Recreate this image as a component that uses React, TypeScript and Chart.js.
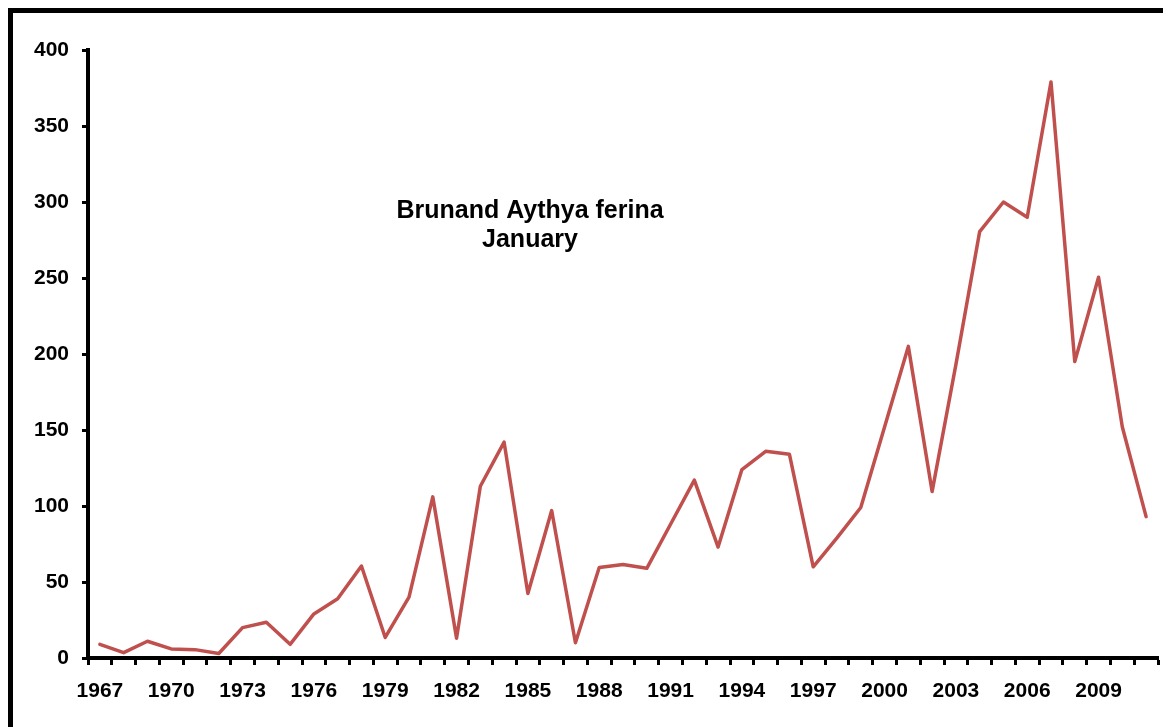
import React, { useEffect, useRef } from "react";
import { Chart, registerables } from "chart.js";

Chart.register(...registerables);

const years: string[] = [
  "1967","1968","1969","1970","1971","1972","1973","1974","1975","1976",
  "1977","1978","1979","1980","1981","1982","1983","1984","1985","1986",
  "1987","1988","1989","1990","1991","1992","1993","1994","1995","1996",
  "1997","1998","1999","2000","2001","2002","2003","2004","2005","2006",
  "2007","2008","2009","2010","2011",
];

const counts: number[] = [
  9, 3.5, 11, 6, 5.5, 3, 20, 23.5, 9, 29,
  39, 60.5, 13.5, 40, 106, 13, 113, 142, 42.5, 97,
  10, 59.5, 61.5, 59, 88, 117, 73, 124, 136, 134,
  60, 79, 99, 152, 205, 109.5, 193, 280.5, 300, 290,
  379, 195, 250.5, 152, 93,
];

const titleLines: string[] = ["Brunand Aythya ferina", "January"];

const FONT = '"Liberation Sans", Arial, sans-serif';

export default function App() {
  const canvasRef = useRef<HTMLCanvasElement | null>(null);

  useEffect(() => {
    const canvas = canvasRef.current;
    if (!canvas) return;

    const titlePlugin = {
      id: "innerTitle",
      afterDraw(chart: any) {
        const ctx = chart.ctx as CanvasRenderingContext2D;
        ctx.save();
        ctx.fillStyle = "#000";
        ctx.font = `bold 25px ${FONT}`;
        ctx.textAlign = "center";
        ctx.textBaseline = "alphabetic";
        const baselines = [205, 234];
        titleLines.forEach((line, i) => {
          ctx.fillText(line, 517, baselines[i]);
        });
        ctx.restore();
      },
    };

    const chart = new Chart(canvas, {
      type: "line",
      data: {
        labels: years,
        datasets: [
          {
            data: counts,
            borderColor: "#C0504D",
            borderWidth: 3.5,
            pointRadius: 0,
            pointHoverRadius: 0,
            fill: false,
            tension: 0,
            borderJoinStyle: "round",
            borderCapStyle: "round",
          },
        ],
      },
      options: {
        animation: false,
        responsive: false,
        maintainAspectRatio: false,
        layout: { padding: { top: 37, right: 13, left: 0, bottom: 0 } },
        plugins: {
          legend: { display: false },
          title: { display: false },
          tooltip: { enabled: false },
        },
        scales: {
          x: {
            type: "category",
            offset: true,
            grid: {
              offset: true,
              drawOnChartArea: false,
              drawTicks: true,
              tickLength: 7,
              tickWidth: 3,
              tickColor: "#000",
            },
            border: { display: true, color: "#000", width: 4 },
            ticks: {
              autoSkip: false,
              maxRotation: 0,
              minRotation: 0,
              padding: 14,
              color: "#000",
              font: { family: FONT, size: 21, weight: "bold" },
              callback: function (_v: any, index: number) {
                return index % 3 === 0 ? years[index] : "";
              },
            },
            afterFit(scale: any) {
              scale.height = 69;
            },
          },
          y: {
            min: 0,
            max: 400,
            grid: {
              drawOnChartArea: false,
              drawTicks: true,
              tickLength: 6,
              tickWidth: 3,
              tickColor: "#000",
            },
            border: { display: true, color: "#000", width: 4 },
            ticks: {
              stepSize: 50,
              padding: 13,
              color: "#000",
              font: { family: FONT, size: 21, weight: "bold" },
            },
            afterFit(scale: any) {
              scale.width = 75;
            },
          },
        },
      },
      plugins: [titlePlugin],
    });

    return () => chart.destroy();
  }, []);

  return (
    <div
      style={{
        width: 1163,
        height: 719,
        boxSizing: "border-box",
        borderTop: "5px solid #000",
        borderLeft: "5px solid #000",
        background: "#fff",
        position: "relative",
        overflow: "hidden",
      }}
    >
      <canvas
        ref={canvasRef}
        width={1158}
        height={714}
        style={{ display: "block", width: 1158, height: 714 }}
      />
    </div>
  );
}
